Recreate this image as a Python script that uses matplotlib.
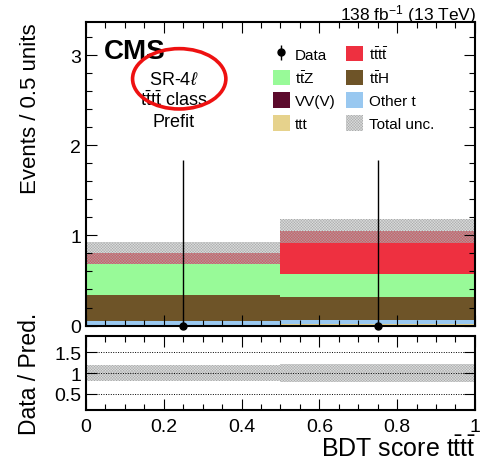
"""CMS-style BDT score plot, SR-4l tttt class, prefit."""

import matplotlib
matplotlib.use("Agg")
import matplotlib.pyplot as plt
from matplotlib.patches import Ellipse, Patch
from matplotlib.ticker import MultipleLocator
import numpy as np

plt.rcParams["font.family"] = ["Liberation Sans", "DejaVu Sans"]
plt.rcParams["mathtext.fontset"] = "custom"
plt.rcParams["mathtext.rm"] = "Liberation Sans"
plt.rcParams["mathtext.it"] = "Liberation Sans:italic"
plt.rcParams["mathtext.bf"] = "Liberation Sans:bold"
plt.rcParams["hatch.linewidth"] = 0.3

# bins of the BDT score
bin_edges = [0.0, 0.5, 1.0]

# stacked backgrounds / signal, bottom to top
ttt = [0.005, 0.02]
other_t = [0.045, 0.04]
vvv = [0.0, 0.0]
tth = [0.29, 0.26]
ttz = [0.34, 0.25]
tttt = [0.125, 0.48]

total_unc = [0.125, 0.13]      # absolute, main panel
ratio_unc = [0.19, 0.23]       # relative, ratio panel

data = [0, 0]
data_err_up = [1.84, 1.84]

stack = [
    (ttt, "#e6d28c", "ttt"),
    (other_t, "#99c8f0", "Other t"),
    (vvv, "#5c0a2c", "VV(V)"),
    (tth, "#6e5428", r"$\mathrm{t\bar{t}H}$"),
    (ttz, "#98fa98", r"$\mathrm{t\bar{t}Z}$"),
    (tttt, "#ee3040", r"$\mathrm{t\bar{t}t\bar{t}}$"),
]

HATCH = "x" * 12
UNC_FACE = (0.62, 0.65, 0.65, 0.36)
HATCH_COLOR = "#a8a8a8"

edges = np.array(bin_edges)
centers = 0.5 * (edges[:-1] + edges[1:])
widths = np.diff(edges)

fig = plt.figure(figsize=(4.91, 4.64), dpi=100)
ax = fig.add_axes([0.1752, 0.2963, 0.792, 0.654])
rax = fig.add_axes([0.1752, 0.1142, 0.792, 0.1595], sharex=ax)

bottom = np.zeros(len(centers))
handles = {}
for vals, color, label in stack:
    vals = np.array(vals)
    ax.bar(centers, vals, width=widths, bottom=bottom, color=color, linewidth=0)
    handles[label] = Patch(facecolor=color, edgecolor="none", label=label)
    bottom = bottom + vals
total = bottom


def unc_band(axis, low, height):
    axis.bar(centers, height, width=widths, bottom=low, color=UNC_FACE, linewidth=0)
    axis.bar(centers, height, width=widths, bottom=low, fill=False,
             hatch=HATCH, edgecolor=HATCH_COLOR, linewidth=0)


unc = np.array(total_unc)
unc_band(ax, total - unc, 2 * unc)

data_eb = ax.errorbar(centers, data, yerr=[np.zeros(2), data_err_up], fmt="o",
                      color="black", ms=5, lw=1, capsize=0, clip_on=False,
                      zorder=5, label="Data")
for art in data_eb.lines[2]:
    art.set_clip_on(False)

ax.set_xlim(0, 1)
ax.set_ylim(0, 3.37)
ax.yaxis.set_major_locator(MultipleLocator(1))
ax.yaxis.set_minor_locator(MultipleLocator(0.2))
ax.set_ylabel("Events / 0.5 units", fontsize=16, loc="top")
plt.setp(ax.get_xticklabels(), visible=False)

# ratio panel
runc = np.array(ratio_unc)
unc_band(rax, 1 - runc, 2 * runc)
for yv in [0.5, 1.0, 1.5]:
    rax.axhline(yv, color="black", ls=(0, (1, 1.5)), lw=0.7)
rax.set_ylim(0.1, 1.9)
rax.set_yticks([0.5, 1, 1.5])
rax.set_yticklabels(["0.5", "1", "1.5"])
rax.set_ylabel("Data / Pred.", fontsize=16.5)
rax.xaxis.set_minor_locator(MultipleLocator(0.05))
rax.set_xticks([0, 0.2, 0.4, 0.6, 0.8, 1.0])
rax.set_xticklabels(["0", "0.2", "0.4", "0.6", "0.8", "1"])

for a in (ax, rax):
    a.tick_params(which="both", direction="in", top=True, right=True, labelsize=14)
    a.tick_params(which="major", length=8, width=0.8)
    a.tick_params(which="minor", length=4, width=0.8)
    for sp in a.spines.values():
        sp.set_linewidth(1.5)
rax.tick_params(axis="x", pad=6)

ax.yaxis.set_label_coords(-0.115, 1.0)
rax.yaxis.set_label_coords(-0.115, 0.5)

# labels
fig.text(0.971, 0.016, r"BDT score $\mathrm{t\bar{t}t\bar{t}}$", ha="right",
         va="baseline", fontsize=18)
fig.text(0.969, 0.957, r"138 fb$^{-1}$ (13 TeV)", ha="right", va="baseline", fontsize=12.5)
ax.text(0.045, 0.905, "CMS", transform=ax.transAxes, fontsize=20,
        fontweight="bold", ha="left", va="center")
ax.text(0.225, 0.812, r"SR-4$\ell$", transform=ax.transAxes, fontsize=13, ha="center", va="center")
ax.text(0.225, 0.744, r"$\mathrm{t\bar{t}t\bar{t}}$ class", transform=ax.transAxes,
        fontsize=13, ha="center", va="center")
ax.text(0.225, 0.672, "Prefit", transform=ax.transAxes, fontsize=13, ha="center", va="center")

unc_handle = Patch(facecolor=UNC_FACE, edgecolor=HATCH_COLOR, hatch=HATCH,
                   linewidth=0, label="Total unc.")
order = [data_eb, handles[r"$\mathrm{t\bar{t}Z}$"], handles["VV(V)"], handles["ttt"],
         handles[r"$\mathrm{t\bar{t}t\bar{t}}$"], handles[r"$\mathrm{t\bar{t}H}$"],
         handles["Other t"], unc_handle]
labels = ["Data", r"$\mathrm{t\bar{t}Z}$", "VV(V)", "ttt",
          r"$\mathrm{t\bar{t}t\bar{t}}$", r"$\mathrm{t\bar{t}H}$", "Other t", "Total unc."]
ax.legend(order, labels, ncol=2, loc="upper left", bbox_to_anchor=(0.445, 0.97),
          frameon=False, fontsize=11, handlelength=1.1, handleheight=1.2,
          columnspacing=0.7, labelspacing=0.45, handletextpad=0.35)

# red highlight ellipse around the region label
fig.patches.append(Ellipse((0.365, 0.828), 0.19, 0.13, transform=fig.transFigure,
                           fill=False, edgecolor="#ee1111", linewidth=2.6, figure=fig))

fig.savefig("out.png", dpi=100)
